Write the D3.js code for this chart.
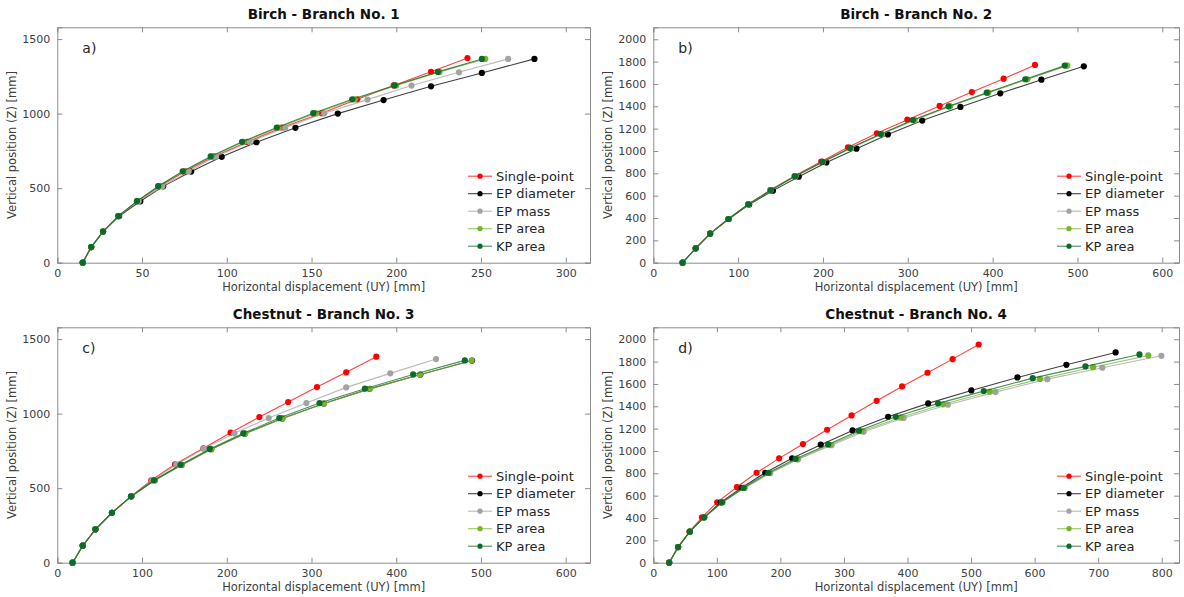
<!DOCTYPE html>
<html>
<head>
<meta charset="utf-8">
<script src="https://cdn.jsdelivr.net/npm/d3@7"></script>
<style>
  html, body { margin: 0; padding: 0; background: #fff; }
  svg { display: block; font-family: "DejaVu Sans", sans-serif; }
</style>
</head>
<body>
<svg id="chart" width="1184" height="597"></svg>
<script>
// Branch deflection profiles: horizontal displacement UY vs vertical position Z, in mm.
// Each series is a list of [UY, Z] node positions.

const seriesNames = ["Single-point", "EP diameter", "EP mass", "EP area", "KP area"];
const seriesColors = ["#ff0000", "#000000", "#a3a3a3", "#76b32c", "#0a6b2a"];

// Birch - Branch No. 1
const birch1Single = [[15,0],[20,105],[27,209],[36,313],[47.5,413],[60.5,513],[75.5,613],[92.5,713],[112,810],[132.5,907],[156,1003],[177,1096],[198.5,1189],[220.5,1281],[242,1373]];
const birch1Diameter = [[15,0],[20,105],[27,209],[36.5,313],[49,412],[62.5,512],[79,611],[97,710],[117.5,808],[140.5,905],[165.5,1000],[192.5,1091],[220.5,1183],[250.5,1273],[281.5,1367]];
const birch1Mass = [[15,0],[20,105],[27,209],[36,313],[48,413],[62,513],[77.5,612],[93.5,712],[113.5,810],[134.5,906],[157.5,1002],[183,1094],[209,1188],[237,1277],[266,1367]];
const birch1Area = [[15,0],[20,105],[27,209],[36,313],[47,413],[60,513],[74.5,613],[91,713],[110,811],[130.5,907],[152.5,1003],[175.5,1096],[200,1189],[225.5,1280],[252.5,1367]];
const birch1KP = [[15,0],[20,105],[27,209],[36,313],[47,413],[59.5,513],[74,613],[90.5,713],[109,811],[129.5,907],[151,1003],[174,1096],[199,1189],[224.5,1280],[250.5,1367]];

// Birch - Branch No. 2
const birch2Single = [[34.5,0],[50,129],[67,260],[88.5,391],[112,523],[138,650],[166.5,776],[198,905],[229.5,1033],[263.5,1158],[299.5,1280],[337.5,1403],[375.5,1528],[413,1647],[450,1770]];
const birch2Diameter = [[34.5,0],[50,129],[67,260],[89,391],[113,521],[141,645],[171.5,770],[204,897],[239.5,1021],[276.5,1148],[317,1272],[362,1394],[409,1516],[457.5,1638],[507.5,1758]];
const birch2Mass = [[34.5,0],[50,129],[67,260],[88.5,391],[112,523],[138.5,648],[167.5,773],[200,902],[233,1027],[269,1152],[307.5,1277],[349.5,1400],[394.5,1522],[440.5,1642],[487.5,1764]];
const birch2Area = [[34.5,0],[50,129],[67,260],[88.5,391],[112,523],[138.5,648],[167.5,773],[200,902],[233,1027],[269.5,1152],[308,1277],[350,1400],[395,1522],[441,1642],[488,1764]];
const birch2KP = [[34.5,0],[50,129],[67,260],[88.5,391],[112,523],[138.5,648],[167,773],[199.5,902],[232,1027],[268,1152],[306,1277],[348,1400],[393,1522],[438.5,1642],[485,1764]];

// Chestnut - Branch No. 3
const chestnut3Single = [[18,0],[30,114],[45,224],[64.5,335],[87,445],[111,553],[139,660],[172.5,767],[204.5,872],[238.5,977],[272.5,1078],[306.5,1178],[341,1277],[376.5,1382]];
const chestnut3Diameter = [[18,0],[30,114],[45,224],[64.5,335],[87.5,445],[115,553],[146.5,656],[181.5,761],[221.5,866],[265.5,968],[314.5,1068],[368.5,1166],[428.5,1262],[489.5,1356]];
const chestnut3Mass = [[18,0],[30,114],[45,224],[64.5,335],[87,445],[112,553],[140.5,659],[173,765],[209,868],[249.5,970],[294,1071],[341,1176],[393,1270],[447,1366]];
const chestnut3Area = [[18,0],[30,114],[45,224],[64.5,335],[87.5,445],[115,553],[147,656],[182,761],[222,866],[266,968],[315,1068],[369,1166],[428,1261],[489,1356]];
const chestnut3KP = [[18,0],[30,114],[45,224],[64.5,335],[87,445],[114,553],[145.5,657],[180,763],[219.5,868],[262,970],[309.5,1071],[363,1167],[420,1263],[481,1357]];

// Chestnut - Branch No. 4
const chestnut4Single = [[25,0],[39,140],[57,278],[76.5,406],[100.5,540],[131.5,677],[162.5,805],[198,934],[235.5,1062],[273.5,1190],[312,1318],[351.5,1449],[391.5,1578],[431.5,1700],[471,1822],[512,1953]];
const chestnut4Diameter = [[25,0],[39,140],[57.5,278],[80,406],[106,540],[139,671],[176,805],[218.5,934],[263.5,1056],[313.5,1184],[369.5,1306],[432.5,1426],[500.5,1542],[573,1658],[650,1771],[727.5,1882]];
const chestnut4Mass = [[25,0],[39,140],[57.5,278],[80.5,406],[109,540],[144,669],[184,801],[228,925],[280.5,1052],[331,1173],[394,1296],[463.5,1414],[538.5,1527],[620,1643],[706.5,1745],[799.5,1852]];
const chestnut4Area = [[25,0],[39,140],[57.5,278],[80,406],[108.5,540],[143,670],[182.5,803],[226.5,927],[278,1055],[327.5,1177],[389,1300],[456,1418],[529.5,1530],[608.5,1645],[692,1750],[779,1855]];
const chestnut4KP = [[25,0],[39,140],[57.5,278],[80,406],[108,540],[142,671],[181,805],[224,930],[275,1059],[323.5,1181],[381.5,1306],[448,1426],[520,1536],[597,1652],[680,1757],[765,1864]];

// Tick values per panel
const ticksX1 = [0, 50, 100, 150, 200, 250, 300];
const ticksY1 = [0, 500, 1000, 1500];
const ticksX2 = [0, 100, 200, 300, 400, 500, 600];
const ticksY2 = [0, 200, 400, 600, 800, 1000, 1200, 1400, 1600, 1800, 2000];
const ticksX3 = [0, 100, 200, 300, 400, 500, 600];
const ticksY3 = [0, 500, 1000, 1500];
const ticksX4 = [0, 100, 200, 300, 400, 500, 600, 700, 800];
const ticksY4 = [0, 200, 400, 600, 800, 1000, 1200, 1400, 1600, 1800, 2000];

const titles = ["Birch - Branch No. 1", "Birch - Branch No. 2", "Chestnut - Branch No. 3", "Chestnut - Branch No. 4"];
const panelTags = ["a)", "b)", "c)", "d)"];

const panels = [
  { box: [57.3, 590, 27.3, 262.7],  xMax: 314.3, yMax: 1579, tx: ticksX1, ty: ticksY1,
    series: [birch1Single, birch1Diameter, birch1Mass, birch1Area, birch1KP] },
  { box: [653.3, 1179, 27.3, 262.7], xMax: 619.7, yMax: 2107, tx: ticksX2, ty: ticksY2,
    series: [birch2Single, birch2Diameter, birch2Mass, birch2Area, birch2KP] },
  { box: [57.3, 590, 327.3, 562.7], xMax: 628.7, yMax: 1579, tx: ticksX3, ty: ticksY3,
    series: [chestnut3Single, chestnut3Diameter, chestnut3Mass, chestnut3Area, chestnut3KP] },
  { box: [653.3, 1179, 327.3, 562.7], xMax: 827.2, yMax: 2107, tx: ticksX4, ty: ticksY4,
    series: [chestnut4Single, chestnut4Diameter, chestnut4Mass, chestnut4Area, chestnut4KP] }
];

const svg = d3.select("#chart");
const axisColor = "#8c8c8c";
const textColor = "#404040";
const plain = d3.format("d");

panels.forEach((p, i) => {
  const [x0, x1, y0, y1] = p.box;
  const x = d3.scaleLinear().domain([0, p.xMax]).range([x0, x1]);
  const y = d3.scaleLinear().domain([0, p.yMax]).range([y1, y0]);
  const g = svg.append("g");

  // Axes on all four sides, ticks pointing inward
  const axes = [
    { gen: d3.axisBottom(x).tickValues(p.tx).tickSize(-5).tickPadding(7).tickFormat(plain), t: `translate(0,${y1})` },
    { gen: d3.axisTop(x).tickValues(p.tx).tickSize(-5).tickFormat(""), t: `translate(0,${y0})` },
    { gen: d3.axisLeft(y).tickValues(p.ty).tickSize(-5).tickPadding(7).tickFormat(plain), t: `translate(${x0},0)` },
    { gen: d3.axisRight(y).tickValues(p.ty).tickSize(-5).tickFormat(""), t: `translate(${x1},0)` }
  ];
  axes.forEach(a => {
    const ag = g.append("g").attr("transform", a.t).call(a.gen);
    ag.select(".domain").attr("stroke", axisColor).attr("stroke-width", 1);
    ag.selectAll(".tick line").attr("stroke", axisColor);
    ag.selectAll(".tick text")
      .attr("fill", textColor)
      .attr("font-size", 11)
      .attr("font-family", "DejaVu Sans, sans-serif");
  });

  // Series: line then markers, KP area drawn last
  const line = d3.line().x(d => x(d[0])).y(d => y(d[1]));
  p.series.forEach((data, k) => {
    g.append("path")
      .datum(data)
      .attr("d", line)
      .attr("fill", "none")
      .attr("stroke", seriesColors[k])
      .attr("stroke-opacity", 0.75)
      .attr("stroke-width", 1.1);
    g.append("g").selectAll("circle")
      .data(data)
      .join("circle")
      .attr("cx", d => x(d[0]))
      .attr("cy", d => y(d[1]))
      .attr("r", 3.1)
      .attr("fill", seriesColors[k]);
  });

  // Title
  g.append("text")
    .attr("x", (x0 + x1) / 2)
    .attr("y", y0 - 8)
    .attr("text-anchor", "middle")
    .attr("font-weight", "bold")
    .attr("font-size", 13.5)
    .attr("fill", "#111")
    .text(titles[i]);

  // Axis labels
  g.append("text")
    .attr("x", (x0 + x1) / 2)
    .attr("y", y1 + 28)
    .attr("text-anchor", "middle")
    .attr("font-size", 11.5)
    .attr("fill", textColor)
    .text("Horizontal displacement (UY) [mm]");
  g.append("text")
    .attr("transform", `translate(${x0 - 41},${(y0 + y1) / 2}) rotate(-90)`)
    .attr("text-anchor", "middle")
    .attr("font-size", 11.5)
    .attr("fill", textColor)
    .text("Vertical position (Z) [mm]");

  // Panel tag
  g.append("text")
    .attr("x", x0 + 25)
    .attr("y", y0 + 26)
    .attr("font-size", 14)
    .attr("fill", "#262626")
    .text(panelTags[i]);

  // Legend, bottom-right inside the axes
  const lx = x1 - 122, ly = y1 - 86.5;
  seriesNames.forEach((name, k) => {
    const yy = ly + k * 17.5;
    g.append("line")
      .attr("x1", lx).attr("x2", lx + 24)
      .attr("y1", yy).attr("y2", yy)
      .attr("stroke", seriesColors[k])
      .attr("stroke-opacity", 0.75)
      .attr("stroke-width", 1.1);
    g.append("circle")
      .attr("cx", lx + 12).attr("cy", yy).attr("r", 2.6)
      .attr("fill", seriesColors[k]);
    g.append("text")
      .attr("x", lx + 28)
      .attr("y", yy + 4.5)
      .attr("font-size", 13)
      .attr("fill", "#262626")
      .text(name);
  });
});
</script>
</body>
</html>
